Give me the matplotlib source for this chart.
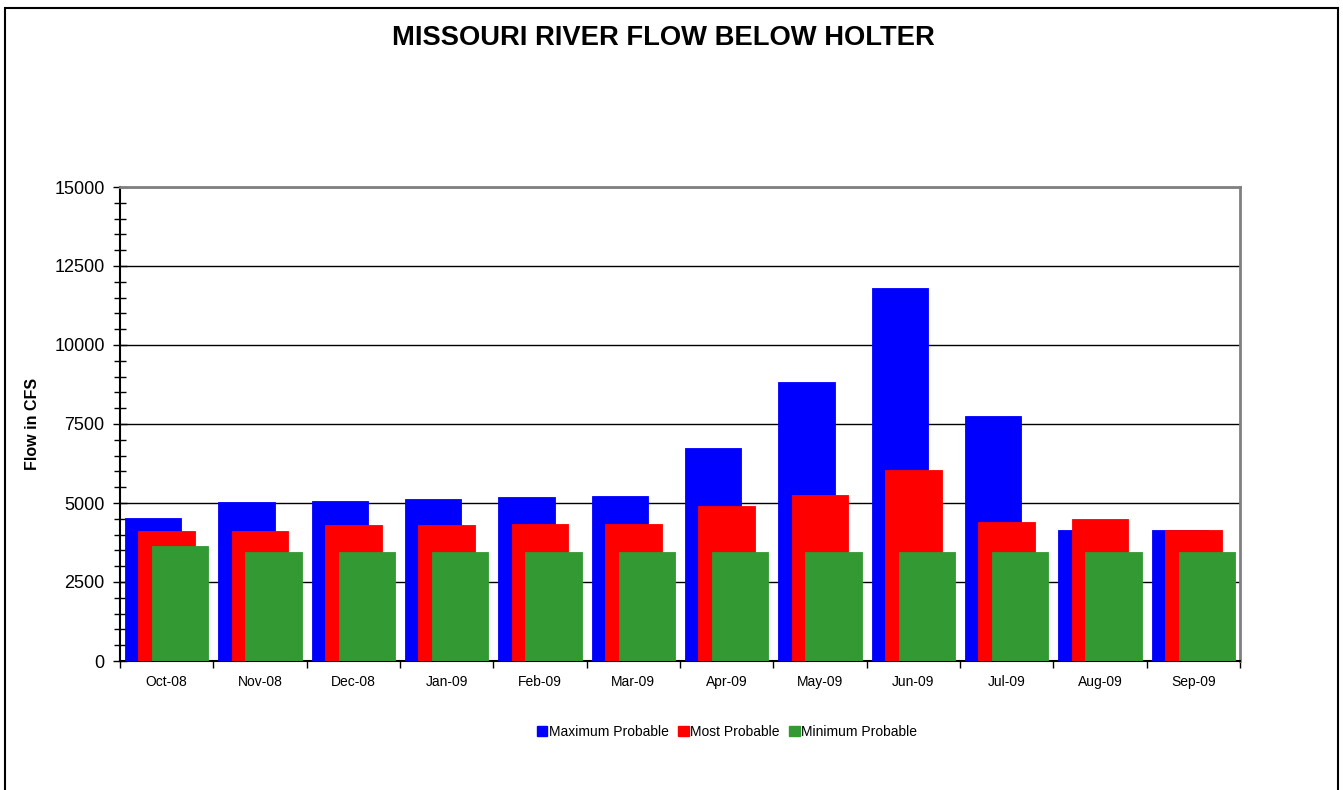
import numpy as np
import matplotlib
matplotlib.use("Agg")
import matplotlib.pyplot as plt
from matplotlib.patches import Patch, Rectangle
from matplotlib.ticker import MultipleLocator, FixedLocator, NullFormatter

plt.rcParams['font.family'] = ['Liberation Sans', 'DejaVu Sans']

# Data
months = ['Oct-08', 'Nov-08', 'Dec-08', 'Jan-09', 'Feb-09', 'Mar-09',
          'Apr-09', 'May-09', 'Jun-09', 'Jul-09', 'Aug-09', 'Sep-09']
max_probable = [4520, 5020, 5050, 5130, 5190, 5220, 6730, 8820, 11810, 7750, 4130, 4130]
most_probable = [4120, 4120, 4290, 4300, 4330, 4340, 4920, 5250, 6060, 4400, 4500, 4150]
min_probable = [3650, 3450, 3450, 3450, 3450, 3450, 3450, 3450, 3450, 3450, 3450, 3450]

series = [
    ('Maximum Probable', max_probable, '#0000FF'),
    ('Most Probable', most_probable, '#FF0000'),
    ('Minimum Probable', min_probable, '#339933'),
]

W, H = 1343, 790
fig = plt.figure(figsize=(W / 100, H / 100), dpi=100)

# outer chart border
fig.patches.append(Rectangle((5 / W, -0.01), 1333 / W, 1 - 8 / H + 0.01,
                             transform=fig.transFigure, fill=False,
                             edgecolor='black', linewidth=1.5))

ax = fig.add_axes([120 / W, 129 / H, 1120 / W, 474 / H])

x = np.arange(len(months))
bar_w = 0.605
step = 0.145
for i, (name, vals, col) in enumerate(series):
    ax.bar(x + (i - 1) * step, vals, width=bar_w, color=col, label=name,
           edgecolor=col, linewidth=0.6, zorder=3 + i)

ax.set_xlim(-0.5, len(months) - 0.5)
ax.set_ylim(0, 15000)

# y axis
ax.yaxis.set_major_locator(MultipleLocator(2500))
ax.yaxis.set_minor_locator(MultipleLocator(500))
ax.tick_params(axis='y', which='major', direction='inout', length=10, width=1,
               labelsize=13, pad=6)
ax.tick_params(axis='y', which='minor', direction='inout', length=8, width=1)
ax.grid(axis='y', which='major', color='black', linewidth=1, zorder=1)

# x axis: ticks at category boundaries, labels at centers
ax.xaxis.set_major_locator(FixedLocator(np.arange(-0.5, len(months), 1.0)))
ax.xaxis.set_major_formatter(NullFormatter())
ax.xaxis.set_minor_locator(FixedLocator(x))
ax.set_xticklabels(months, minor=True)
ax.tick_params(axis='x', which='major', direction='out', length=5, width=1)
ax.tick_params(axis='x', which='minor', length=0, labelsize=10, pad=10)

for s in ['top', 'right']:
    ax.spines[s].set_color('#808080')
    ax.spines[s].set_linewidth(2)
ax.spines['left'].set_linewidth(1.5)
ax.spines['bottom'].set_linewidth(1.5)
ax.set_axisbelow(True)

ax.set_ylabel('Flow in CFS', fontsize=11.5, fontweight='bold', labelpad=10)

fig.text(663 / W, 1 - 38 / H, 'MISSOURI RIVER FLOW BELOW HOLTER',
         fontsize=19.7, fontweight='bold', ha='center', va='center')

handles = [Patch(facecolor=c, edgecolor=c, label=n) for n, _, c in series]
fig.legend(handles=handles, loc='center', bbox_to_anchor=(727 / W, 1 - 732 / H),
           ncol=3, frameon=False, fontsize=10, handlelength=0.75,
           handleheight=0.75, handletextpad=0.1, columnspacing=0.7)

fig.savefig('out.png', dpi=100)
